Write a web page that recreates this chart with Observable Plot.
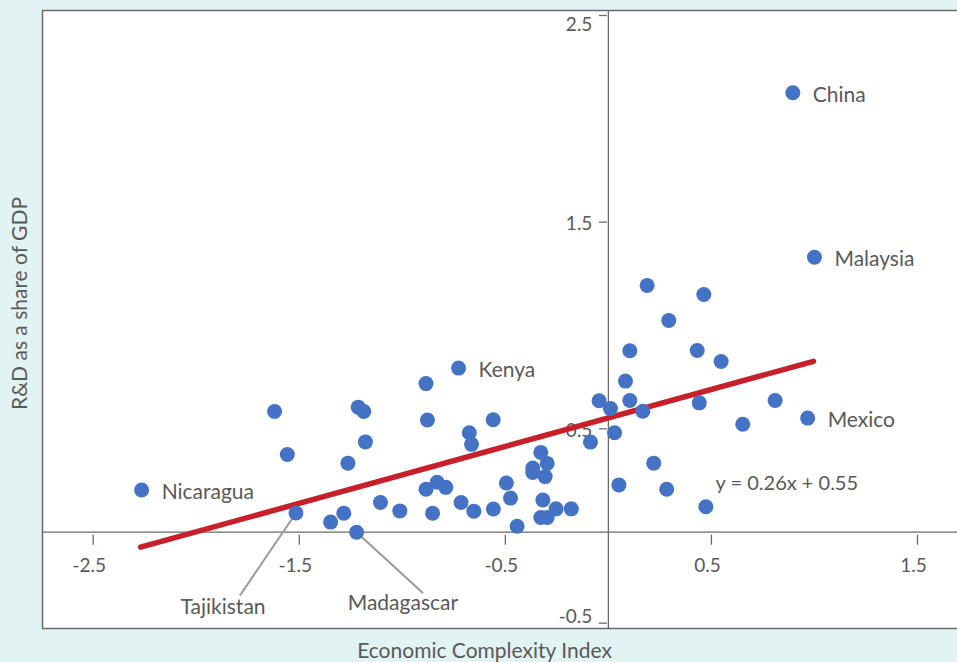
<!DOCTYPE html>
<html>
<head>
<meta charset="utf-8">
<script src="https://cdn.jsdelivr.net/npm/d3@7"></script>
<script src="https://cdn.jsdelivr.net/npm/@observablehq/plot@0.6"></script>
<style>
  html, body { margin: 0; padding: 0; background: #e2f3f3; }
  #chart svg { display: block; }
</style>
</head>
<body>
<div id="chart"></div>
<script>
// Labeled countries (label to the right of the dot)
const labeledNames = ["China", "Malaysia", "Mexico", "Kenya", "Nicaragua"];
const labeledECI   = [0.895, 1.000, 0.967, -0.727, -2.265];
const labeledRD    = [2.126, 1.330, 0.552, 0.794, 0.204];

// Countries labeled with a leader line
const calloutNames  = ["Tajikistan", "Madagascar"];
const calloutECI    = [-1.516, -1.222];
const calloutRD     = [0.093, 0.0];
const calloutTextX  = [-1.870, -0.997];
const calloutTextY  = [-0.412, -0.393];
const calloutLeadX  = [-1.788, -0.899];
const calloutLeadY  = [-0.348, -0.335];

// Other (unlabeled) countries
const otherECI = [
  -1.620, -1.558, -1.348, -1.284, -1.264, -1.214, -1.187, -1.179, -1.106, -1.012,
  -0.885, -0.878, -0.885, -0.853, -0.831, -0.789, -0.715, -0.675, -0.664, -0.653,
  -0.559, -0.558, -0.495, -0.475, -0.443, -0.328, -0.297, -0.367, -0.367, -0.307,
  -0.318, -0.328, -0.297, -0.254, -0.180, -0.087, -0.045, 0.010, 0.030, 0.051,
  0.083, 0.104, 0.104, 0.167, 0.188, 0.220, 0.283, 0.293, 0.431, 0.441,
  0.463, 0.473, 0.547, 0.652, 0.809
];
const otherRD = [
  0.584, 0.376, 0.049, 0.092, 0.334, 0.605, 0.584, 0.437, 0.144, 0.103,
  0.719, 0.543, 0.208, 0.092, 0.242, 0.217, 0.144, 0.481, 0.425, 0.102,
  0.544, 0.112, 0.238, 0.165, 0.029, 0.386, 0.333, 0.311, 0.289, 0.269,
  0.156, 0.071, 0.071, 0.113, 0.113, 0.436, 0.636, 0.598, 0.481, 0.229,
  0.731, 0.878, 0.637, 0.585, 1.194, 0.334, 0.208, 1.024, 0.879, 0.626,
  1.150, 0.123, 0.826, 0.522, 0.637
];

// Fitted line (end points as drawn) and its equation label
const trendECI = [-2.270, 0.995];
const trendRD  = [-0.082, 0.827];
const equationText = ["y = 0.26x + 0.55"];
const equationECI  = [0.520];
const equationRD   = [0.236];

// Axis ticks
const xTicks = [-2.5, -1.5, -0.5, 0.5, 1.5];
const yTicks = [2.5, 1.5, 0.5, -0.5];
const xTitle = "Economic Complexity Index";
const yTitle = "R&D as a share of GDP";

// Build tables
const labeled = labeledNames.map((n, i) => ({name: n, x: labeledECI[i], y: labeledRD[i]}));
const callouts = calloutNames.map((n, i) => ({
  name: n, x: calloutECI[i], y: calloutRD[i],
  tx: calloutTextX[i], ty: calloutTextY[i], lx: calloutLeadX[i], ly: calloutLeadY[i]
}));
const others = otherECI.map((x, i) => ({x, y: otherRD[i]}));
const allPoints = [...others, ...labeled, ...callouts];
const trend = trendECI.map((x, i) => ({x, y: trendRD[i]}));
const equation = equationText.map((t, i) => ({text: t, x: equationECI[i], y: equationRD[i]}));

const gray = "#595959";
const axisGray = "#6a6a6a";
// the original chart's negative half-axis is drawn slightly compressed
const negSquash = 0.8805;

const yTop = yTicks.filter(d => d === d3.max(yTicks));
const yMid = yTicks.filter(d => d > 0 && d !== d3.max(yTicks));
const yNeg = yTicks.filter(d => d < 0);
const yLabel = (arr, dy) => Plot.text(arr, {x: 0, y: d => d, text: d => String(d), textAnchor: "end", dx: -16, dy, fontSize: 19, fill: gray});

const chart = Plot.plot({
  width: 957,
  height: 662,
  marginTop: 10,
  marginLeft: 42,
  marginRight: -3,
  marginBottom: 34,
  style: {background: "transparent", fontFamily: "Lato, 'Open Sans', sans-serif", color: gray},
  x: {domain: [-2.5, 1.5], range: [92.7, 917], axis: null},
  y: {transform: v => (v < 0 ? v * negSquash : v), domain: [-0.5 * negSquash, 2.5], range: [622.7, 15], axis: null},
  marks: [
    Plot.frame({fill: "white", stroke: "none"}),
    Plot.ruleY([0], {stroke: axisGray, strokeWidth: 1.3}),
    Plot.ruleX([0], {stroke: axisGray, strokeWidth: 1.3}),
    Plot.ruleX(xTicks, {x: d => d, y1: 0, y2: 0, insetTop: 3, insetBottom: -13, stroke: axisGray, strokeWidth: 1.3}),
    Plot.ruleY(yTicks, {y: d => d, x1: 0, x2: 0, insetLeft: -9, insetRight: 1, stroke: axisGray, strokeWidth: 1.3}),
    Plot.text(xTicks, {x: d => d, y: 0, text: d => String(d), dy: 34, dx: -4, fontSize: 19, fill: gray}),
    yLabel(yTop, 9),
    yLabel(yMid, 2),
    yLabel(yNeg, -6),
    Plot.line(trend, {x: "x", y: "y", stroke: "#c8202b", strokeWidth: 5.5, strokeLinecap: "round"}),
    Plot.link(callouts, {x1: "x", y1: "y", x2: "lx", y2: "ly", stroke: "#9a9a9a", strokeWidth: 2}),
    Plot.dot(allPoints, {x: "x", y: "y", r: 7.5, fill: "#4472c4", stroke: "none"}),
    Plot.text(labeled, {x: "x", y: "y", text: "name", textAnchor: "start", dx: 20, dy: 2, fontSize: 21, fill: gray}),
    Plot.text(callouts, {x: "tx", y: "ty", text: "name", fontSize: 21, fill: gray}),
    Plot.text(equation, {x: "x", y: "y", text: "text", textAnchor: "start", fontSize: 20, fill: gray}),
    Plot.frame({stroke: axisGray, strokeWidth: 1.5}),
    Plot.text([xTitle], {frameAnchor: "bottom", text: d => d, lineAnchor: "middle", textAnchor: "middle", dy: 23, dx: -17, fontSize: 21, fill: gray}),
    Plot.text([yTitle], {frameAnchor: "left", text: d => d, rotate: -90, textAnchor: "middle", lineAnchor: "middle", dx: -22, dy: -16, fontSize: 21, fill: gray})
  ]
});
document.getElementById("chart").appendChild(chart);
</script>
</body>
</html>
